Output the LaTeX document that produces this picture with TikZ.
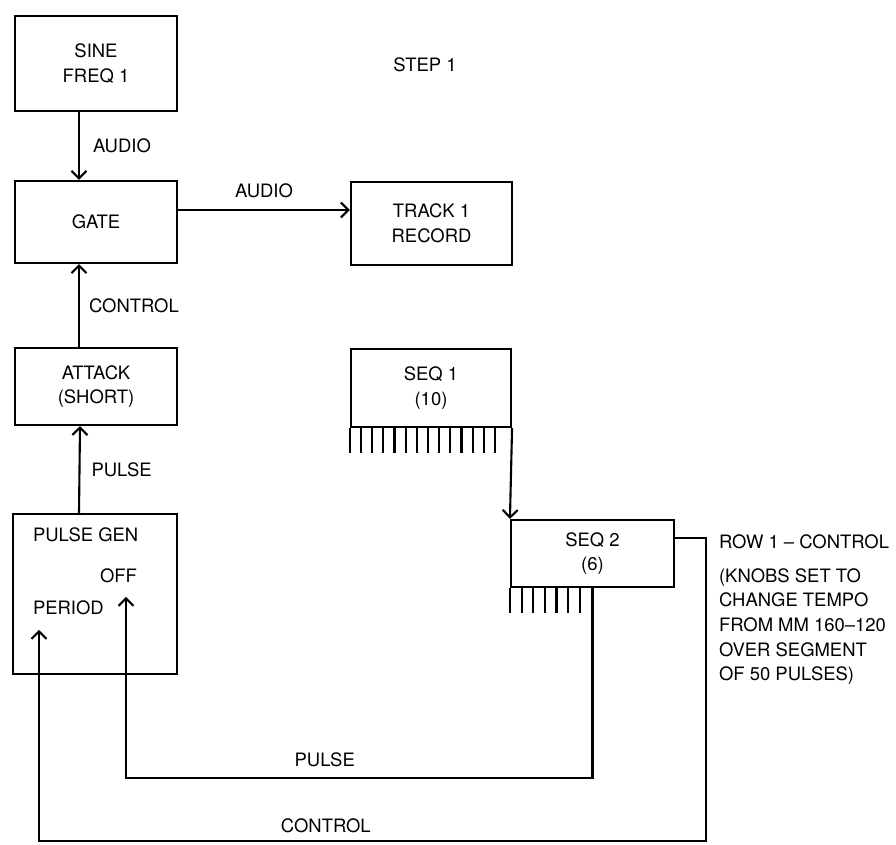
\documentclass[tikz,border=0pt]{standalone}
\usepackage{fontspec}
\setmainfont{TeX Gyre Heros}
\usepackage{tikz}
\usetikzlibrary{arrows.meta,positioning}

\begin{document}
\begin{tikzpicture}[font=\fontsize{10.5}{14}\selectfont, line width=1.2pt,
  box/.style={draw, inner sep=0pt, align=center},
  lab/.style={inner sep=0pt, align=left},
  >={Straight Barb[length=1.5mm,width=3mm]}]
\useasboundingbox (0,0) rectangle (17.92,16.88);

\node[lab] (step) at (8.5,15.58) {STEP 1};

\node[box, minimum width=3.24cm, minimum height=1.9cm] (sine) at (1.92,15.61) {SINE\\FREQ 1};
\node[box, minimum width=3.24cm, minimum height=1.64cm] (gate) at (1.92,12.44) {GATE};
\node[box, minimum width=3.22cm, minimum height=1.66cm] (track) at (8.63,12.41) {TRACK 1\\RECORD};
\node[box, minimum width=3.24cm, minimum height=1.54cm] (attack) at (1.92,9.15) {ATTACK\\(SHORT)};
\node[box, minimum width=3.28cm, minimum height=3.2cm] (pulsegen) at (1.9,5.0) {};
\node[box, minimum width=3.2cm, minimum height=1.56cm] (seq1) at (8.62,9.12) {SEQ 1\\(10)};
\node[box, minimum width=3.26cm, minimum height=1.34cm] (seq2) at (11.85,5.81) {SEQ 2\\(6)};

% inside the pulse generator
\node[lab, anchor=west] (pgname) at (0.64,6.18) {PULSE GEN};
\node[lab] (off) at (2.37,5.36) {OFF};
\node[lab, anchor=west] (period) at (0.64,4.72) {PERIOD};
\coordinate (offin) at (2.52,4.94);
\coordinate (periodin) at (0.78,4.28);

% notes on the right
\node[lab, anchor=west] (rowlab) at (14.36,6.04) {ROW 1 -- CONTROL};
\node[lab, anchor=west] (knobs) at (14.36,4.35) {(KNOBS SET TO\\CHANGE TEMPO\\FROM MM 160--120\\OVER SEGMENT\\OF 50 PULSES)};

% sequencer steps
\foreach \i in {0,...,13}
  \draw ([xshift=\i*0.223cm]seq1.south west) -- ++(0,-0.5);
\foreach \i in {0,...,6}
  \draw ([xshift=\i*0.233cm]seq2.south west) -- ++(0,-0.5);

\draw[->] ([xshift=-0.34cm]sine.south) -- node[lab, right=0.26cm] {AUDIO} ([xshift=-0.34cm]gate.north);
\draw[->] ([yshift=0.24cm]gate.east) -- node[lab, above=0.22cm] {AUDIO} ([yshift=0.24cm]gate.east -| track.west);
\draw[->] ([xshift=-0.34cm]attack.north) -- node[lab, right=0.18cm] {CONTROL} ([xshift=-0.34cm]gate.south);
\draw[->] ([xshift=-0.32cm]pulsegen.north) -- node[lab, right=0.22cm] {PULSE} ([xshift=-0.32cm]attack.south);
\draw[->] (seq1.south east) -- (seq2.north west);

\coordinate (pulserow) at (0,1.32);
\coordinate (ctrlrow) at (0,0.06);
\draw[->] (seq2.south) |- node[lab, above=0.2cm, pos=0.787] {PULSE} (pulserow -| offin) -- (offin);
\draw[->] ([yshift=0.31cm]seq2.east) -- ++(0.62,0) |- node[lab, above=0.14cm, pos=0.785] {CONTROL} (ctrlrow -| periodin) -- (periodin);
\end{tikzpicture}
\end{document}
